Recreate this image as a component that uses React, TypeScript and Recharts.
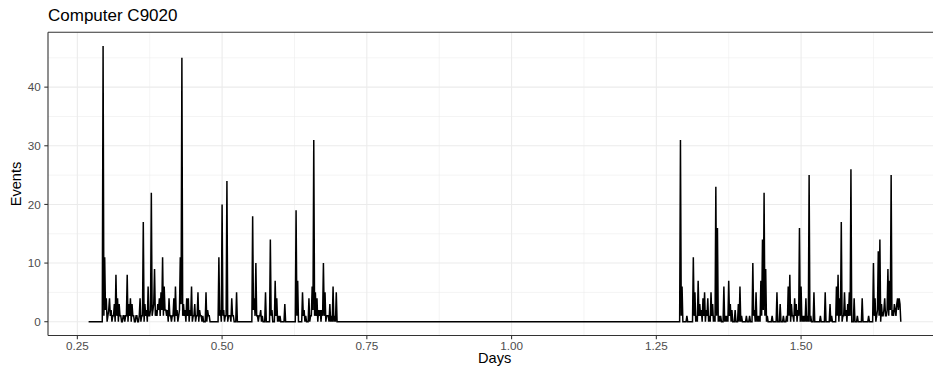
import React from 'react';
import { LineChart, Line, XAxis, YAxis, ReferenceLine } from 'recharts';

// event counts for computer C9020, 2-minute bins, time measured in minutes from day 0
const TITLE = 'Computer C9020';
const X_LABEL = 'Days';
const Y_LABEL = 'Events';

const BIN_MINUTES = 2;
const FIRST_SEEN_MIN = 388;
const SESSION_START_MIN = [416, 1852];

const session1Counts = [
  0, 0, 0, 0, 47, 1, 11, 2, 4, 0, 1, 2, 4, 1, 2, 0, 1, 1, 3, 0,
  8, 1, 4, 0, 3, 1, 1, 0, 0, 1, 1, 0, 1, 1, 8, 0, 3, 1, 4, 0,
  3, 1, 1, 0, 0, 1, 1, 0, 0, 1, 4, 0, 1, 1, 17, 0, 3, 1, 2, 0,
  6, 1, 1, 2, 22, 1, 2, 3, 9, 1, 2, 1, 3, 2, 4, 1, 5, 2, 11, 1,
  6, 2, 2, 1, 2, 0, 4, 1, 1, 0, 1, 1, 4, 0, 6, 1, 2, 0, 1, 2,
  11, 3, 45, 1, 3, 1, 2, 0, 4, 1, 4, 0, 2, 1, 6, 0, 1, 1, 3, 0,
  1, 1, 5, 0, 2, 1, 1, 0, 1, 0, 0, 0, 5, 0, 2, 1, 1, 0, 0, 0,
  0, 0, 0, 0, 0, 0, 0, 0, 11, 1, 2, 0, 20, 1, 2, 0, 1, 1, 24, 0,
  1, 1, 1, 0, 4, 1, 1, 0, 0, 0, 5, 0, 0, 0, 0, 0, 0, 0, 0, 0,
  0, 0, 0, 0, 0, 0, 0, 0, 0, 0, 18, 2, 4, 1, 10, 1, 1, 0, 1, 1,
  2, 0, 1, 0, 0, 0, 5, 0, 0, 0, 0, 0, 14, 1, 2, 0, 0, 0, 7, 1,
  4, 0, 1, 0, 1, 0, 0, 0, 0, 0, 3, 0, 0, 0, 0, 0, 0, 0, 0, 0,
  0, 0, 0, 0, 19, 1, 7, 0, 0, 0, 0, 0, 5, 1, 2, 0, 1, 0, 0, 0,
  4, 0, 1, 1, 6, 2, 31, 1, 5, 1, 4, 0, 2, 1, 2, 0, 2, 1, 10, 1,
  5, 0, 1, 1, 1, 0, 3, 0, 1, 0, 6, 0, 1, 0, 5, 0, 0,
];

const session2Counts = [
  0, 0, 0, 0, 31, 1, 6, 0, 0, 0, 0, 0, 1, 0, 0, 0, 0, 0, 0, 0,
  11, 1, 5, 0, 1, 0, 7, 1, 3, 1, 2, 0, 4, 1, 5, 0, 2, 1, 4, 0,
  1, 0, 5, 1, 3, 0, 1, 0, 23, 1, 16, 0, 1, 0, 1, 0, 0, 0, 6, 0,
  1, 0, 1, 0, 7, 1, 3, 0, 2, 0, 0, 0, 2, 0, 0, 0, 3, 0, 6, 0,
  1, 0, 0, 0, 0, 0, 1, 0, 0, 0, 1, 0, 0, 0, 10, 1, 2, 0, 5, 0,
  1, 0, 1, 0, 7, 1, 14, 2, 22, 1, 9, 0, 1, 0, 0, 0, 0, 0, 1, 0,
  0, 0, 0, 0, 5, 0, 0, 0, 3, 0, 0, 0, 1, 0, 0, 0, 1, 0, 6, 1,
  8, 0, 3, 1, 1, 0, 4, 1, 3, 0, 2, 1, 16, 0, 6, 0, 1, 0, 1, 0,
  4, 0, 1, 0, 25, 0, 1, 0, 0, 0, 5, 0, 0, 0, 0, 0, 0, 0, 1, 0,
  0, 0, 0, 0, 5, 0, 0, 0, 0, 0, 3, 0, 1, 0, 0, 0, 0, 0, 6, 1,
  8, 0, 4, 1, 17, 0, 1, 1, 5, 1, 2, 0, 3, 1, 5, 1, 26, 0, 0, 0,
  4, 0, 0, 0, 1, 0, 0, 0, 0, 0, 4, 0, 0, 0, 0, 0, 0, 0, 1, 0,
  0, 0, 0, 0, 10, 1, 4, 0, 1, 2, 12, 1, 14, 0, 3, 1, 1, 2, 4, 1,
  1, 2, 9, 1, 7, 2, 25, 1, 2, 1, 3, 2, 1, 3, 4, 2, 4, 3, 0,
];

const X_TICKS = [0.25, 0.5, 0.75, 1.0, 1.25, 1.5];
const X_MINOR = [0.375, 0.625, 0.875, 1.125, 1.375, 1.625];
const Y_TICKS = [0, 10, 20, 30, 40];
const Y_MINOR = [5, 15, 25, 35, 45];

type Point = { day: number; events: number };

const toDay = (min: number) => min / 1440;

const points: Point[] = [
  { day: toDay(FIRST_SEEN_MIN), events: 0 },
  ...session1Counts.map((v, i) => ({ day: toDay(SESSION_START_MIN[0] + i * BIN_MINUTES), events: v })),
  ...session2Counts.map((v, i) => ({ day: toDay(SESSION_START_MIN[1] + i * BIN_MINUTES), events: v })),
];

// ggplot-style 5% expansion on both axes
const expand = (lo: number, hi: number): [number, number] => {
  const pad = (hi - lo) * 0.05;
  return [lo - pad, hi + pad];
};
const days = points.map((p) => p.day);
const counts = points.map((p) => p.events);
const xDomain = expand(Math.min(...days), Math.max(...days));
const yDomain = expand(0, Math.max(...counts));

const FONT = '"Liberation Sans", Arial, Helvetica, sans-serif';
const GRID = '#EBEBEB';
const BORDER = '#333333';

export default function App() {
  return (
    <div style={{ position: 'absolute', left: 0, top: 0, width: 933, height: 373, overflow: 'hidden', background: '#fff' }}>
      <LineChart width={960} height={373} data={points} margin={{ top: 32.3, right: 18.6, bottom: 0, left: 0 }}>
        <XAxis
          dataKey="day"
          type="number"
          domain={xDomain}
          ticks={X_TICKS}
          allowDataOverflow
          tickFormatter={(v: number) => v.toFixed(2)}
          height={37.5}
          tickSize={3.7}
          tickMargin={2.5}
          axisLine={{ stroke: BORDER, strokeWidth: 1.1 }}
          tickLine={{ stroke: BORDER, strokeWidth: 1.07 }}
          tick={{ fill: '#4D4D4D', fontSize: 11.7, fontFamily: FONT }}
        />
        <YAxis
          type="number"
          domain={yDomain}
          ticks={Y_TICKS}
          allowDataOverflow
          width={48}
          tickSize={3.7}
          tickMargin={3.6}
          axisLine={{ stroke: BORDER, strokeWidth: 1.1 }}
          tickLine={{ stroke: BORDER, strokeWidth: 1.07 }}
          tick={{ fill: '#4D4D4D', fontSize: 11.7, fontFamily: FONT }}
        />
        {Y_MINOR.map((v) => (
          <ReferenceLine key={'ym' + v} y={v} stroke={GRID} strokeWidth={0.55} />
        ))}
        {X_MINOR.map((v) => (
          <ReferenceLine key={'xm' + v} x={v} stroke={GRID} strokeWidth={0.55} />
        ))}
        {Y_TICKS.map((v) => (
          <ReferenceLine key={'y' + v} y={v} stroke={GRID} strokeWidth={1.07} />
        ))}
        {X_TICKS.map((v) => (
          <ReferenceLine key={'x' + v} x={v} stroke={GRID} strokeWidth={1.07} />
        ))}
        <ReferenceLine y={yDomain[1]} stroke={BORDER} strokeWidth={1.1} />
        <Line
          type="linear"
          dataKey="events"
          stroke="#000000"
          strokeWidth={1.5}
          dot={false}
          activeDot={false}
          isAnimationActive={false}
        />
      </LineChart>
      <svg width={933} height={373} style={{ position: 'absolute', left: 0, top: 0, pointerEvents: 'none' }}>
        <text x={48} y={20.7} fontSize={17} fontFamily={FONT} fill="#000">
          {TITLE}
        </text>
        <text x={494.7} y={362.5} fontSize={14.6} fontFamily={FONT} fill="#000" textAnchor="middle">
          {X_LABEL}
        </text>
        <text
          x={0}
          y={0}
          fontSize={14.6}
          fontFamily={FONT}
          fill="#000"
          textAnchor="middle"
          transform="translate(20.5 184) rotate(-90)"
        >
          {Y_LABEL}
        </text>
      </svg>
    </div>
  );
}
